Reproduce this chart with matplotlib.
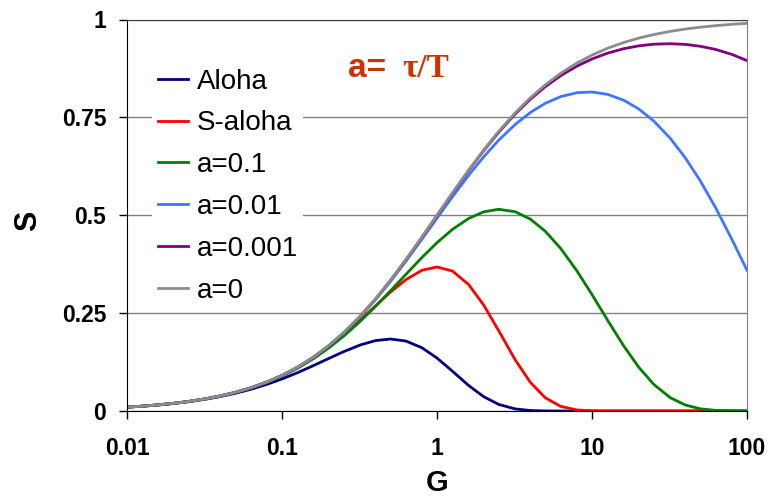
import matplotlib
matplotlib.use('Agg')
import matplotlib.pyplot as plt

# 오퍼드 로드 G (로그 격자, 10점/decade)
G = [0.01, 0.0126, 0.0158, 0.02, 0.025, 0.032, 0.04, 0.05, 0.063, 0.08,
     0.1, 0.126, 0.16, 0.2, 0.25, 0.32, 0.4, 0.5, 0.63, 0.8,
     1, 1.26, 1.6, 2, 2.5, 3.2, 4, 5, 6.3, 8,
     10, 12.6, 16, 20, 25, 32, 40, 50, 63, 80, 100]

aloha = [0.0098, 0.0123, 0.0153, 0.0192, 0.0238, 0.0300, 0.0369, 0.0452, 0.0555, 0.0682,
         0.0819, 0.0979, 0.1162, 0.1341, 0.1516, 0.1687, 0.1797, 0.1839, 0.1787, 0.1615,
         0.1353, 0.1014, 0.0652, 0.0366, 0.0168, 0.0053, 0.0013, 0.0002, 0.0, 0.0,
         0.0, 0.0, 0.0, 0.0, 0.0, 0.0, 0.0, 0.0, 0.0, 0.0, 0.0]

s_aloha = [0.0099, 0.0124, 0.0156, 0.0196, 0.0244, 0.0310, 0.0384, 0.0476, 0.0592, 0.0739,
           0.0905, 0.1111, 0.1363, 0.1637, 0.1947, 0.2324, 0.2681, 0.3033, 0.3355, 0.3595,
           0.3679, 0.3574, 0.3230, 0.2707, 0.2052, 0.1304, 0.0733, 0.0337, 0.0116, 0.0027,
           0.0005, 0.0, 0.0, 0.0, 0.0, 0.0, 0.0, 0.0, 0.0, 0.0, 0.0]

a_01 = [0.0099, 0.0124, 0.0155, 0.0195, 0.0243, 0.0308, 0.0382, 0.0472, 0.0586, 0.0729,
        0.0892, 0.1093, 0.1339, 0.1607, 0.1912, 0.2291, 0.2667, 0.3066, 0.3490, 0.3922,
        0.4299, 0.4641, 0.4918, 0.5087, 0.5152, 0.5089, 0.4902, 0.4590, 0.4146, 0.3577,
        0.2974, 0.2320, 0.1665, 0.1121, 0.0682, 0.0339, 0.0153, 0.0056, 0.0015, 0.0003, 0.0]

a_001 = [0.0099, 0.0124, 0.0155, 0.0196, 0.0244, 0.0310, 0.0384, 0.0476, 0.0592, 0.0739,
         0.0907, 0.1116, 0.1375, 0.1661, 0.1991, 0.2411, 0.2838, 0.3306, 0.3826, 0.4389,
         0.4926, 0.5475, 0.6019, 0.6491, 0.6917, 0.7322, 0.7624, 0.7860, 0.8032, 0.8130,
         0.8148, 0.8088, 0.7940, 0.7717, 0.7409, 0.6964, 0.6466, 0.5876, 0.5179, 0.4381, 0.3594]

a_0001 = [0.0099, 0.0124, 0.0155, 0.0196, 0.0244, 0.0310, 0.0385, 0.0476, 0.0593, 0.0741,
          0.0909, 0.1119, 0.1379, 0.1666, 0.1999, 0.2423, 0.2856, 0.3331, 0.3861, 0.4439,
          0.4993, 0.5565, 0.6140, 0.6649, 0.7120, 0.7589, 0.7962, 0.8285, 0.8569, 0.8810,
          0.8992, 0.9140, 0.9254, 0.9326, 0.9369, 0.9382, 0.9364, 0.9316, 0.9233, 0.9108, 0.8950]

a_0 = [0.0099, 0.0124, 0.0156, 0.0196, 0.0244, 0.0310, 0.0385, 0.0476, 0.0593, 0.0741,
       0.0909, 0.1119, 0.1379, 0.1667, 0.2000, 0.2424, 0.2857, 0.3333, 0.3865, 0.4444,
       0.5000, 0.5575, 0.6154, 0.6667, 0.7143, 0.7619, 0.8000, 0.8333, 0.8630, 0.8889,
       0.9091, 0.9265, 0.9412, 0.9524, 0.9615, 0.9697, 0.9756, 0.9804, 0.9844, 0.9877, 0.9901]

labels = ['Aloha', 'S-aloha', 'a=0.1', 'a=0.01', 'a=0.001', 'a=0']
colors = ['#000080', '#FF0000', '#008000', '#3D77FF', '#800080', '#8C8C8C']
series = [aloha, s_aloha, a_01, a_001, a_0001, a_0]

xticks = [0.01, 0.1, 1, 10, 100]
xticklabels = ['0.01', '0.1', '1', '10', '100']
yticks = [0, 0.25, 0.5, 0.75, 1]
yticklabels = ['0', '0.25', '0.5', '0.75', '1']

plt.rcParams['font.family'] = ['Liberation Sans', 'DejaVu Sans']

fig = plt.figure(figsize=(7.7, 4.99), dpi=100)
ax = fig.add_axes([127/770, 1 - 411/499, (747-127)/770, (411-19.5)/499])

for ys, c, lab in zip(series, colors, labels):
    ax.plot(G, ys, color=c, lw=2.0, label=lab, solid_joinstyle='round')

ax.set_xscale('log')
ax.set_xlim(0.01, 100)
ax.set_ylim(0, 1)
ax.set_xticks(xticks)
ax.set_xticklabels(xticklabels)
ax.minorticks_off()
ax.set_yticks(yticks)
ax.set_yticklabels(yticklabels)
ax.tick_params(axis='both', direction='out', length=6, width=1, labelsize=16.5)
ax.tick_params(axis='x', pad=13)
ax.tick_params(axis='y', pad=9)
for t in ax.get_xticklabels() + ax.get_yticklabels():
    t.set_fontweight('bold')

ax.grid(axis='y', color='#808080', lw=1)
ax.set_axisbelow(True)
ax.spines['right'].set_color('#808080')
ax.spines['top'].set_color('#404040')

ax.set_xlabel('G', fontsize=21, fontweight='bold', va='center')
ax.xaxis.set_label_coords(0.5, (411 - 483) / 391.5)
ax.set_ylabel('S', fontsize=22, fontweight='bold', va='center')
ax.yaxis.set_label_coords((28 - 127) / 620, (411 - 221) / 391.5)

leg = ax.legend(loc='upper left', bbox_to_anchor=(152/770, 1 - 63/499),
                bbox_transform=fig.transFigure, fontsize=20, frameon=True,
                fancybox=False, edgecolor='none', facecolor='white', framealpha=1,
                handlelength=1.1, handletextpad=0.3, labelspacing=0.57,
                borderpad=0.2, borderaxespad=0)

fig.text(348/770, 1 - 77/499, 'a=', color='#CC3300', fontsize=24,
         fontweight='bold', ha='left', va='baseline')
fig.text(402/770, 1 - 77/499, 'τ/T', color='#CC3300', fontsize=24,
         fontweight='bold', family=['Liberation Serif', 'DejaVu Serif'],
         ha='left', va='baseline')

fig.savefig('out.png', dpi=100)
